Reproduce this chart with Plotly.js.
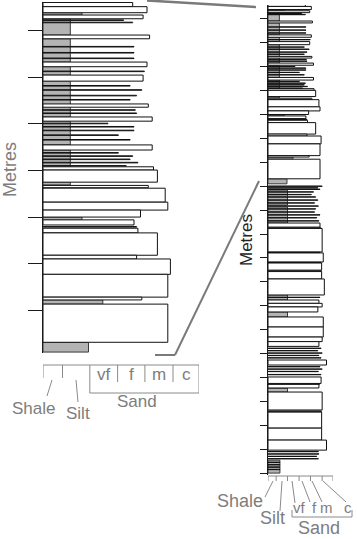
<!DOCTYPE html>
<html><head><meta charset="utf-8">
<script src="https://cdn.plot.ly/plotly-3.0.1.min.js"></script>
<style>html,body{margin:0;padding:0;background:#fff}#chart{width:357px;height:539px}</style>
</head><body><div id="chart"></div>
<script>
// Heights in metres above base of log; grain size in grade units (0 = clay ... 6 = coarse sand)
const sandBase  = [19.52,19.39,19.26,18.83,18.23,17.92,17.36,17.06,16.44,16.01,15.75,15.63,15.32,15.15,15.00,14.83,14.66,14.18,14.10,13.77,13.28,13.22,12.31,
                   10.29,9.25,8.83,8.49,8.12,7.45,7.10,6.95,6.74,6.11,5.69,5.50,5.30,4.52,3.75,3.56,2.64,1.88,1.38,0.96];
const sandTop   = [19.61,19.52,19.34,18.91,18.33,18.05,17.43,17.15,16.55,16.08,16.01,15.68,15.62,15.32,15.15,14.94,14.76,14.66,14.18,14.10,13.77,13.28,13.13,
                   10.46,10.23,9.21,8.79,8.43,8.12,7.24,7.10,6.95,6.53,6.11,5.69,5.50,4.73,4.02,3.72,3.39,2.55,1.88,1.38];
const sandGrain = [3.45,4.0,3.85,4.1,4.0,3.85,4.05,4.2,4.2,4.25,4.4,4.05,4.7,4.8,3.75,3.5,3.65,4.4,3.6,4.9,4.8,3.8,4.8,
                   4.8,5.0,5.1,4.95,4.95,5.2,4.7,5.0,4.6,5.1,5.1,5.0,4.7,5.4,4.9,4.7,5.0,4.95,4.95,5.4];

const mudBase  = [19.34,18.91,18.33,18.05,17.15,16.55,16.08,15.69,14.94,13.13,12.10,11.21,10.46,7.24,6.53,3.39,0.00];
const mudTop   = [19.39,19.26,18.83,18.23,17.92,17.06,16.44,15.75,15.00,13.22,12.31,11.84,11.13,7.45,6.74,3.55,0.54];
const mudGrain = [1.5,1.05,1.05,1.05,1.05,1.05,1.05,1.05,1.5,2.3,1.75,1.8,1.8,1.8,1.8,1.8,1.1];

const thinAt    = [19.23,19.18,18.66,18.53,18.41,18.13,17.82,17.73,17.61,17.52,17.30,17.23,17.01,16.94,16.86,16.76,16.66,
                   16.38,16.31,16.24,16.17,16.10,14.79,
                   12.00,11.93,11.87,11.76,11.65,11.55,11.42,11.30,11.17,11.05,10.92,10.80,10.68,10.55,10.25,9.23,8.81,8.45,
                   7.35,5.22,5.12,5.02,4.92,4.82,4.45,4.35,4.25,4.12,3.73,2.59,0.90,0.80,0.70,0.60,0.45,0.35,0.25,0.15];
const thinGrain = [3.1,3.45,3.5,3.5,3.5,3.9,3.35,3.8,3.6,3.35,3.55,3.6,2.5,3.5,3.5,2.9,3.35,
                   2.9,3.45,3.35,3.65,3.2,3.6,
                   5.0,4.6,4.8,4.2,4.0,4.4,4.6,4.3,4.65,4.4,4.3,4.8,4.5,4.7,4.9,4.8,4.9,4.95,
                   4.8,4.9,4.6,5.0,4.7,4.9,4.8,5.0,4.65,4.9,4.8,4.95,4.65,4.7,4.5,4.65,1.1,1.1,1.1,1.1];

const gradeBounds = [0, 0.75, 1.8, 2.87, 3.92, 5.0, 6.0];
const gradeLabels = ['vf', 'f', 'm', 'c'];
const lithLabels  = ['Shale', 'Silt', 'Sand'];
const axisTitle   = 'Metres';

const W = 357, H = 539;
const px = x => x / W, py = y => 1 - y / H;
const FONT = 'Liberation Sans, Arial, sans-serif';
const GREY = '#7d7d7d';
const THIN = 0.012;

function bars(base, top, grain, xa, ya, fill, line) {
  return {
    type: 'bar', orientation: 'h', xaxis: xa, yaxis: ya,
    x: grain, y: base.map((b, i) => (b + top[i]) / 2), width: base.map((b, i) => top[i] - b),
    base: 0, marker: {color: fill, line: {color: line, width: 1}},
    hoverinfo: 'skip', showlegend: false
  };
}
const thinBase = thinAt.map(v => v - THIN / 2), thinTop = thinAt.map(v => v + THIN / 2);

const data = [];
[['x', 'y'], ['x2', 'y2']].forEach(([xa, ya]) => {
  data.push(bars(mudBase, mudTop, mudGrain, xa, ya, '#b4b4b4', '#3a3a3a'));
  data.push(bars(sandBase, sandTop, sandGrain, xa, ya, '#ffffff', '#111111'));
  data.push(bars(thinBase, thinTop, thinGrain, xa, ya, '#ffffff', '#111111'));
});

const yax = (dom, rng, anchor, tl) => ({
  domain: dom, range: rng, anchor: anchor, showline: true, linecolor: '#1a1a1a', linewidth: 1,
  ticks: 'outside', ticklen: tl, tickcolor: '#1a1a1a', tickwidth: 1, tick0: 0, dtick: 1,
  showticklabels: false, showgrid: false, zeroline: false, fixedrange: true
});

const shapes = [];
const ln = (x0, y0, x1, y1, xref, color, w) => shapes.push({type: 'line', xref: xref, yref: 'paper',
  x0: x0, x1: x1, y0: py(y0), y1: py(y1), line: {color: color, width: w}});
const SC = '#8a8a8a';

// left grade scale
ln(gradeBounds[0], 365, gradeBounds[6], 365, 'x', SC, 1);
gradeBounds.forEach((b, i) => {
  const bottom = (i < 2) ? 378 : (i === 2 || i === 6) ? 393 : 382;
  ln(b, 365, b, bottom, 'x', SC, 1);
});
ln(gradeBounds[2], 393, gradeBounds[6], 393, 'x', SC, 1);
ln(px(52), 380, px(47), 396, 'paper', SC, 1);
ln(px(76), 380, px(78), 402, 'paper', SC, 1);

// right grade scale
ln(gradeBounds[0], 476, gradeBounds[6], 476, 'x2', SC, 1);
gradeBounds.forEach(b => ln(b, 476, b, 481, 'x2', SC, 1));
ln(px(273), 481, px(265), 497, 'paper', SC, 1);
ln(px(282), 481, px(280), 511, 'paper', SC, 1);
ln(px(292), 481, px(295), 503, 'paper', SC, 1);
ln(px(302), 481, px(310), 502, 'paper', SC, 1);
ln(px(312), 481, px(322), 502, 'paper', SC, 1);
ln(px(323), 481, px(346), 502, 'paper', SC, 1);
ln(px(292), 510, px(292), 517, 'paper', SC, 1);
ln(px(352), 510, px(352), 517, 'paper', SC, 1);
ln(px(292), 517, px(352), 517, 'paper', SC, 1);

// zoom connector lines
ln(px(147), 0.5, px(256), 7, 'paper', '#7a7a7a', 2.5);
ln(px(155), 355, px(175), 355, 'paper', '#7a7a7a', 2);
ln(px(175), 355, px(259), 181, 'paper', '#7a7a7a', 2);

const ann = [];
const txt = (t, x, y, size, color, xref, angle) => ann.push({text: t, x: x, y: py(y), xref: xref || 'paper', yref: 'paper',
  xanchor: 'center', yanchor: 'middle', showarrow: false, textangle: angle || 0,
  font: {family: FONT, size: size, color: color}});

txt(axisTitle, px(10), 170, 18, GREY, 'paper', -90);
txt(axisTitle, px(246), 240, 17, '#222222', 'paper', -90);
gradeLabels.forEach((g, i) => txt(g, (gradeBounds[i + 2] + gradeBounds[i + 3]) / 2, 374, 17, GREY, 'x'));
txt(lithLabels[0], px(33), 408, 17, GREY);
txt(lithLabels[1], px(78), 413, 17, GREY);
txt(lithLabels[2], px(137), 401, 17, GREY);
txt(lithLabels[0], px(240), 501, 18, GREY);
txt(lithLabels[1], px(272), 518, 18, GREY);
const rx = [299, 314, 326, 348];
gradeLabels.forEach((g, i) => txt(g, px(rx[i]), 507, 15, GREY));
txt(lithLabels[2], px(319), 528, 18, GREY);

const layout = {
  width: W, height: H, margin: {l: 0, r: 0, t: 0, b: 0},
  paper_bgcolor: '#ffffff', plot_bgcolor: 'rgba(0,0,0,0)',
  barmode: 'overlay', showlegend: false, font: {family: FONT},
  xaxis: {domain: [px(43), px(199)], range: [0, 6], visible: false, anchor: 'y', fixedrange: true},
  yaxis: yax([py(353), py(2)], [12.08, 19.62], 'x', 14),
  xaxis2: {domain: [px(268), px(333)], range: [0, 6], visible: false, anchor: 'y2', fixedrange: true},
  yaxis2: yax([py(475), py(5)], [-0.08, 19.58], 'x2', 7),
  shapes: shapes, annotations: ann
};

Plotly.newPlot('chart', data, layout, {displayModeBar: false, staticPlot: true});
</script></body></html>
